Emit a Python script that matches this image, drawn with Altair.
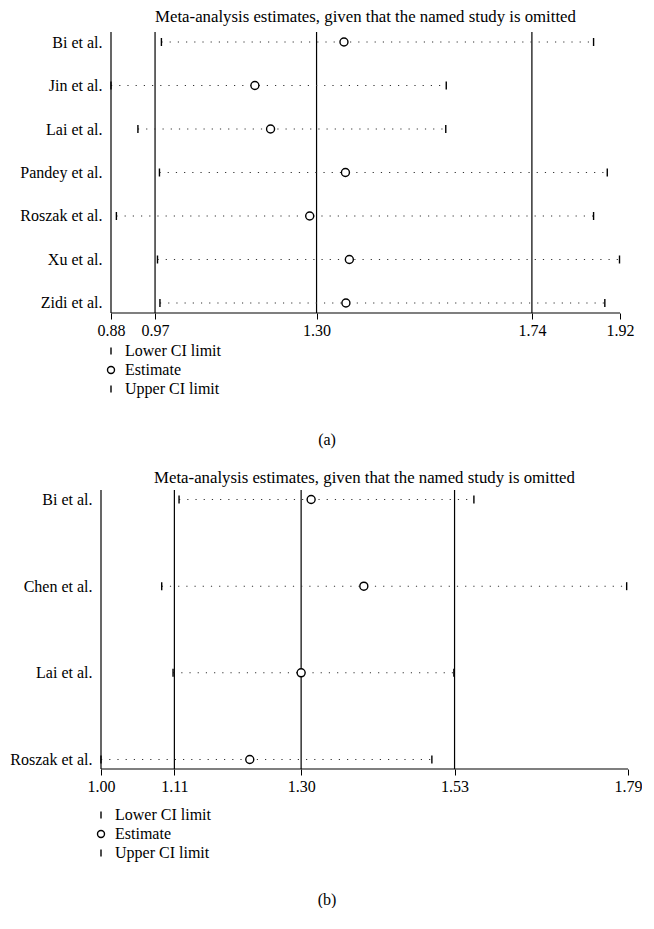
import altair as alt
import pandas as pd

TITLE = "Meta-analysis estimates, given that the named study is omitted"
KINDS = ["Lower CI limit", "Estimate", "Upper CI limit"]

# Panel (a)
studies_a = ["Bi et al.", "Jin et al.", "Lai et al.", "Pandey et al.",
             "Roszak et al.", "Xu et al.", "Zidi et al."]
lower_a = [0.983, 0.880, 0.935, 0.979, 0.891, 0.975, 0.980]
est_a = [1.356, 1.174, 1.206, 1.359, 1.286, 1.367, 1.360]
upper_a = [1.866, 1.565, 1.564, 1.894, 1.866, 1.919, 1.889]
ticks_a = [0.88, 0.97, 1.30, 1.74, 1.92]
refs_a = [0.97, 1.30, 1.74]

# Panel (b)
studies_b = ["Bi et al.", "Chen et al.", "Lai et al.", "Roszak et al."]
lower_b = [1.117, 1.091, 1.108, 1.000]
est_b = [1.315, 1.394, 1.300, 1.223]
upper_b = [1.559, 1.788, 1.529, 1.496]
ticks_b = [1.00, 1.11, 1.30, 1.53, 1.79]
refs_b = [1.11, 1.30, 1.53]

FONT = "Liberation Serif"
FS = 16
YEXT = 93


def panel(studies, lower, est, upper, ticks, refs, inner_w, shift, h, pad, caption,
          leg_x, leg_y, cap_x, cap_y, title_dx, title_off):
    long_rows = []
    for s, l, e, u in zip(studies, lower, est, upper):
        long_rows.append({"study": s, "kind": KINDS[0], "value": l})
        long_rows.append({"study": s, "kind": KINDS[1], "value": e})
        long_rows.append({"study": s, "kind": KINDS[2], "value": u})
    pts_df = pd.DataFrame(long_rows)
    ci_df = pd.DataFrame({"study": studies, "lower": lower, "upper": upper})
    ref_df = pd.DataFrame({"ref": refs})
    frame_df = pd.DataFrame({"lo": [ticks[0]], "hi": [ticks[-1]]})
    cap_df = pd.DataFrame({"t": [caption]})

    lo_ext = ticks[0] - shift * (ticks[-1] - ticks[0]) / inner_w
    xscale = alt.Scale(domain=[lo_ext, ticks[-1]], nice=False, zero=False)
    yscale = alt.Scale(type="point", domain=studies, padding=pad)
    xaxis = alt.Axis(values=ticks, format=".2f", grid=False, title=None,
                     domain=False, tickColor="black", tickSize=6, tickWidth=1,
                     labelFont=FONT, labelFontSize=FS, labelColor="black",
                     labelPadding=3, labelFlush=False)
    yaxis = alt.Axis(title=None, ticks=False, grid=False, domain=False,
                     labelFont=FONT, labelFontSize=FS, labelColor="black",
                     labelPadding=9 - shift, minExtent=YEXT, maxExtent=YEXT)

    left_line = alt.Chart(frame_df).mark_rule(color="black", strokeWidth=1.2).encode(
        x=alt.X("lo:Q", scale=xscale, axis=xaxis)
    )
    bottom_line = alt.Chart(frame_df).mark_rule(color="black", strokeWidth=1.2).encode(
        x=alt.X("lo:Q", scale=xscale, axis=xaxis), x2="hi:Q", y=alt.value(h)
    )
    refs_l = alt.Chart(ref_df).mark_rule(color="black", strokeWidth=1.2).encode(
        x=alt.X("ref:Q", scale=xscale, axis=xaxis)
    )
    dots = alt.Chart(ci_df).mark_rule(color="#333333", strokeWidth=1.1,
                                      strokeDash=[1.2, 7]).encode(
        x=alt.X("lower:Q", scale=xscale, axis=xaxis),
        x2="upper:Q",
        y=alt.Y("study:N", scale=yscale, axis=yaxis, sort=studies),
    )
    disks = alt.Chart(pts_df).transform_filter(alt.datum.kind == KINDS[1]).mark_point(
        shape="circle", filled=True, color="white", size=64, opacity=1
    ).encode(
        x=alt.X("value:Q", scale=xscale, axis=xaxis),
        y=alt.Y("study:N", scale=yscale, axis=yaxis, sort=studies),
    )
    pts = alt.Chart(pts_df).mark_point(filled=False, color="black",
                                       strokeWidth=1.4, size=64, opacity=1).encode(
        x=alt.X("value:Q", scale=xscale, axis=xaxis),
        y=alt.Y("study:N", scale=yscale, axis=yaxis, sort=studies),
        shape=alt.Shape("kind:N",
                        scale=alt.Scale(domain=KINDS,
                                        range=["M0,-1L0,1", "circle", "M0,-1L0,1"]),
                        legend=alt.Legend(orient="none", legendX=leg_x, legendY=leg_y,
                                          title=None, direction="vertical", padding=0,
                                          labelFont=FONT, labelFontSize=FS,
                                          labelColor="black", symbolStrokeColor="black",
                                          symbolStrokeWidth=1.4, symbolSize=49,
                                          rowPadding=3, labelOffset=6)),
    )
    cap = alt.Chart(cap_df).mark_text(font=FONT, fontSize=FS, color="black").encode(
        text="t:N", x=alt.value(cap_x), y=alt.value(cap_y)
    )
    return alt.layer(left_line, bottom_line, refs_l, dots, disks, pts, cap).properties(
        width=inner_w + shift, height=h,
        title=alt.TitleParams(TITLE, font=FONT, fontSize=16.8, fontWeight="normal",
                              color="black", anchor="middle", offset=title_off,
                              dx=title_dx),
    )


pa = panel(studies_a, lower_a, est_a, upper_a, ticks_a, refs_a, 509, 10, 281, 0.23, "(a)",
           2, 311, 226, 408, 5, 6)
pb = panel(studies_b, lower_b, est_b, upper_b, ticks_b, refs_b, 527, 0, 279, 0.11, "(b)",
           -8, 317, 226, 410, 0, 3)

chart = alt.vconcat(pa, pb, spacing=21).resolve_scale(
    x="independent", y="independent", shape="independent"
).properties(
    padding={"top": 0, "left": 0, "right": 0, "bottom": 0}, background="white"
).configure_view(stroke=None)

chart.save("out.html", embed_options={"renderer": "svg", "actions": False})
